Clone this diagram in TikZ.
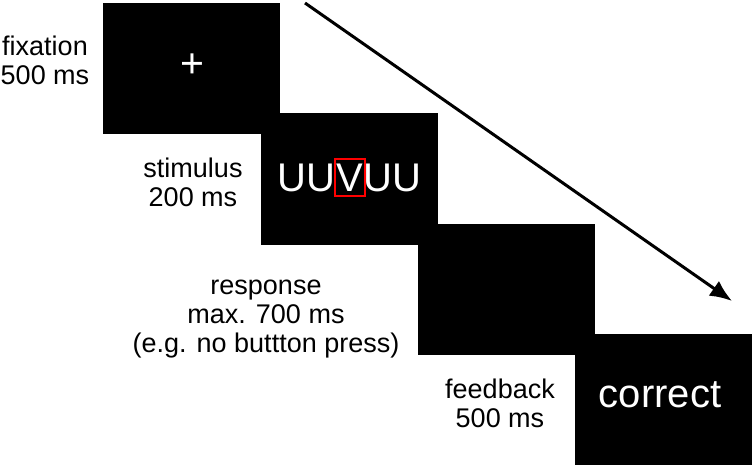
\documentclass[tikz,border=0pt]{standalone}
\usepackage{fontspec}
\setmainfont{Liberation Sans}
\usetikzlibrary{arrows.meta}

\tikzset{
screen/.style={fill=black, minimum width=177pt, minimum height=131pt, inner sep=0pt},
caption/.style={align=center, inner sep=0pt, font=\fontsize{27}{29}\selectfont},
letters/.style={white, inner sep=0pt, font=\fontsize{40}{40}\selectfont},
frame/.style={draw=red, line width=2pt, minimum width=30pt, minimum height=37pt, inner sep=0pt}
}

\begin{document}
\begin{tikzpicture}[x=1pt,y=-1pt]
\useasboundingbox (0,0) rectangle (752,468);

\foreach \i/\x/\y in {1/191.5/68.5, 2/349.5/179, 3/506/289.5, 4/663.5/399.5}
{
\node[screen] (s\i) at (\x,\y) {};
}

\node[white, inner sep=0pt, font=\fontsize{41}{41}\selectfont] (cross) at (192.5,66) {+};

\node[letters] (target) at (349.5,177.5) {V};
\node[letters, anchor=east] (leftU) at (target.west) {UU};
\node[letters, anchor=west] (rightU) at (target.east) {UU};
\node[frame] (redbox) at (target) {};

\node[letters] (correct) at (660,394.5) {correct};

\node[caption] (fix) at (45,60) {fixation\\500 ms};
\node[caption] (stim) at (193,182) {stimulus\\200 ms};
\node[caption] (resp) at (266,319.5) {response\\max. 700 ms\\(e.g. no buttton press)};
\node[caption] (feed) at (500,403) {feedback\\500 ms};

\coordinate (t0) at (305,3);
\coordinate (t1) at (732,301);
\draw[line width=3pt, -{Latex[length=22pt,width=18pt]}] (t0) -- (t1);
\end{tikzpicture}
\end{document}
